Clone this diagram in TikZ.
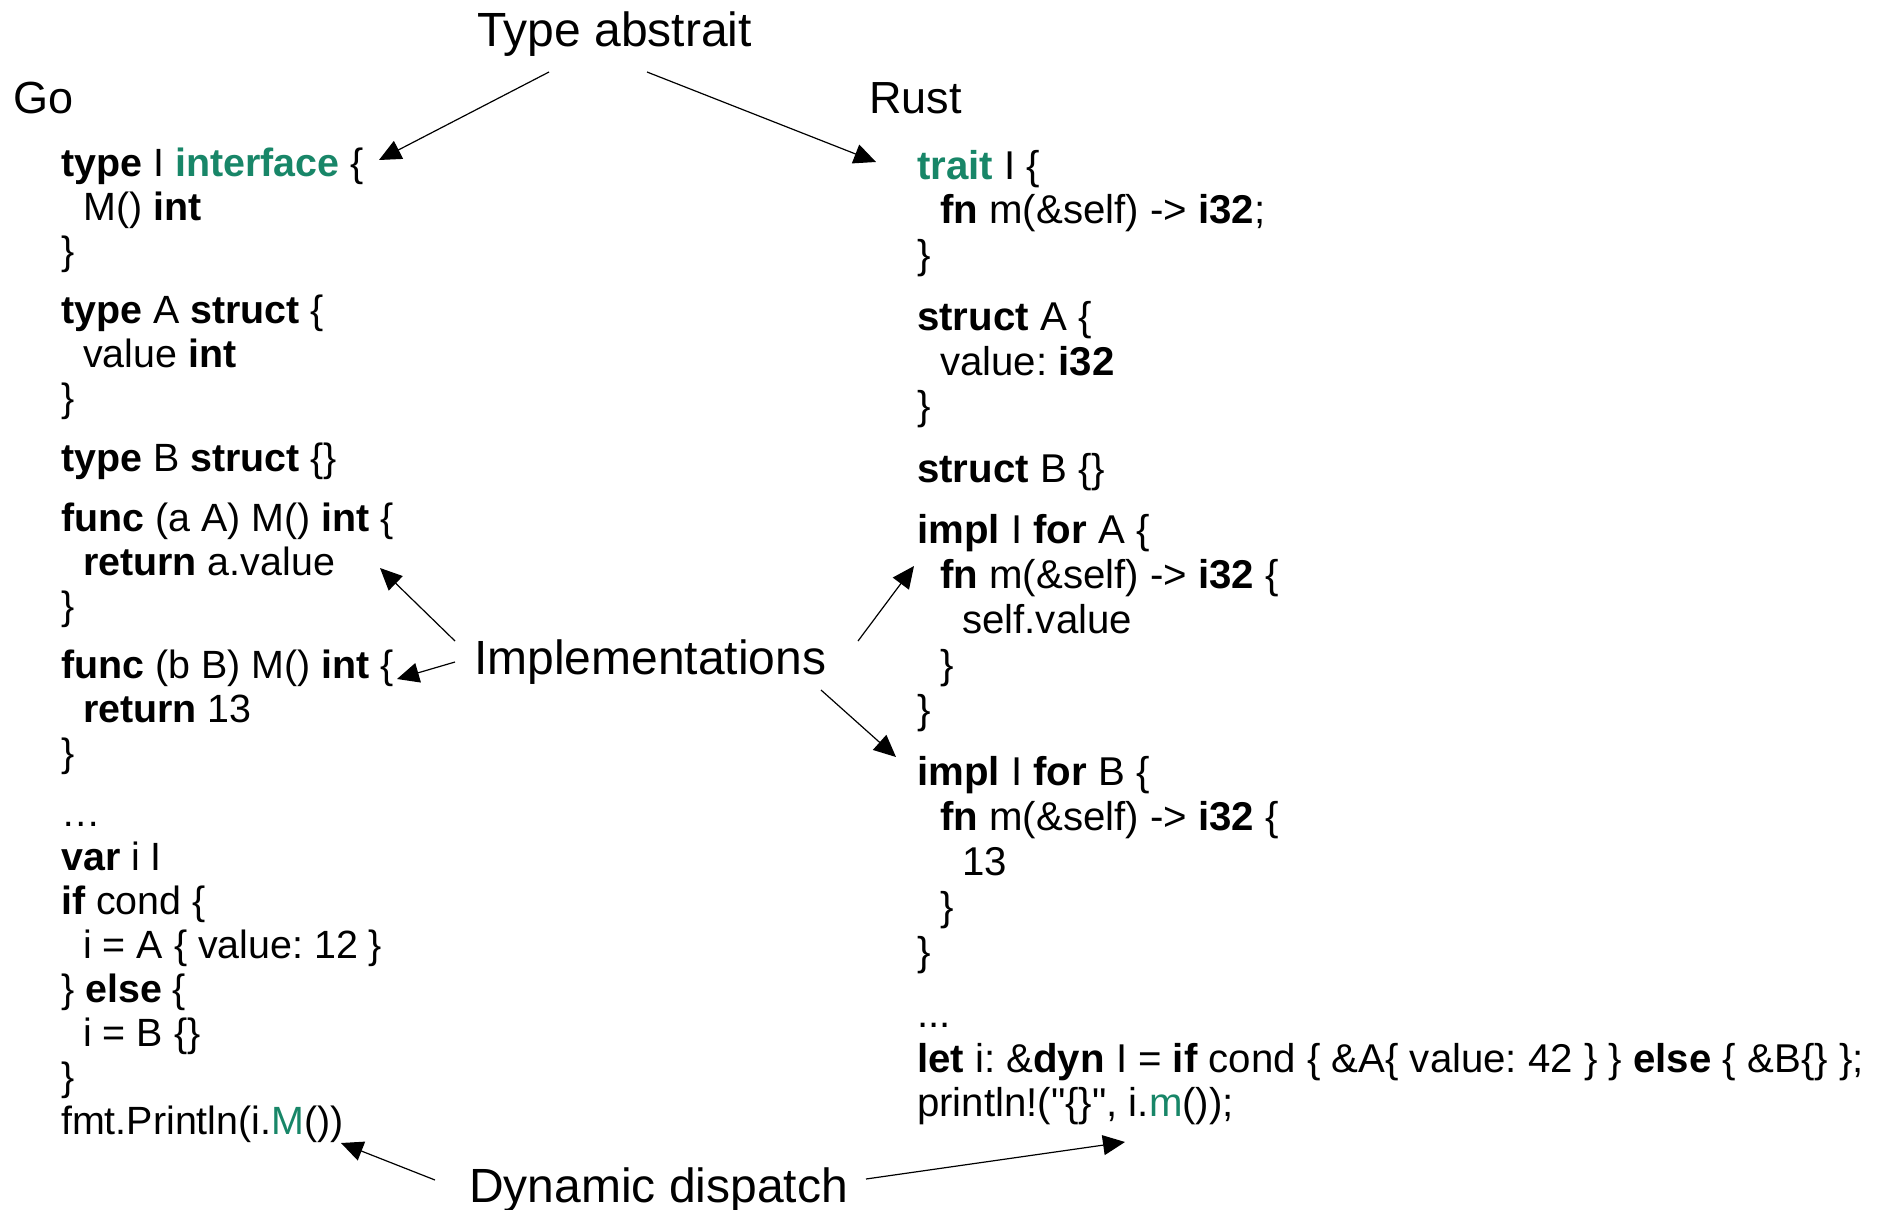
\documentclass[tikz,border=0pt]{standalone}
\usepackage{fontspec}
\setmainfont{Liberation Sans}[Ligatures=TeXOff]
\usetikzlibrary{arrows.meta}
\definecolor{kw}{RGB}{24,134,104}
\tikzset{
  code/.style={anchor=base west, inner sep=0pt, font=\fontsize{39.4}{48}\selectfont\frenchspacing},
  rcode/.style={anchor=base west, inner sep=0pt, font=\fontsize{40.2}{48}\selectfont\frenchspacing},
  lbl/.style={anchor=base west, inner sep=0pt, font=\fontsize{48}{56}\selectfont},
  lang/.style={anchor=base west, inner sep=0pt, font=\fontsize{45}{54}\selectfont},
  conn/.style={line width=1.2pt, -{Triangle[length=22pt,width=20pt]}}
}
\newcommand{\kwb}[1]{\textbf{#1}}
\newcommand{\kwg}[1]{\textcolor{kw}{#1}}
\begin{document}
\frenchspacing
\begin{tikzpicture}[x=1pt,y=-1pt]
\useasboundingbox (0,0) rectangle (1885,1210);
% labels
\node[lbl] (ta) at (477,46) {Type abstrait};
\node[lang] (go) at (13,113) {Go};
\node[lang] (rust) at (869,113) {Rust};
\node[lbl] (impl) at (474,674) {Implementations};
\node[lbl] (dd) at (469,1202) {Dynamic dispatch};
% Go code
\node[code] (g1) at (61,176.7) {\kwb{type} I \kwg{\kwb{interface}} \{};
\node[code] (g2) at (83,220.7) {M() \kwb{int}};
\node[code] (g3) at (61,264.7) {\}};
\node[code] (g4) at (61,323.4) {\kwb{type} A \kwb{struct} \{};
\node[code] (g5) at (83,367.4) {value \kwb{int}};
\node[code] (g6) at (61,411.4) {\}};
\node[code] (g7) at (61,471.3) {\kwb{type} B \kwb{struct} \{\}};
\node[code] (g8) at (61,531.4) {\kwb{func} (a A) M() \kwb{int} \{};
\node[code] (g9) at (83,575.4) {\kwb{return} a.value};
\node[code] (g10) at (61,619.4) {\}};
\node[code] (g11) at (61,678) {\kwb{func} (b B) M() \kwb{int} \{};
\node[code] (g12) at (83,722) {\kwb{return} 13};
\node[code] (g13) at (61,766) {\}};
\node[code] (g14) at (61,826.4) {…};
\node[code] (g15) at (61,870.4) {\kwb{var} i I};
\node[code] (g16) at (61,914.4) {\kwb{if} cond \{};
\node[code] (g17) at (83,958.4) {i = A \{ value: 12 \}};
\node[code] (g18) at (61,1002.4) {\} \kwb{else} \{};
\node[code] (g19) at (83,1046.4) {i = B \{\}};
\node[code] (g20) at (61,1090.4) {\}};
\node[code] (g21) at (61,1134.4) {fmt.Println(i.\kwg{M}())};
% Rust code
\node[rcode] (r1) at (917,179) {\kwg{\kwb{trait}} I \{};
\node[rcode] (r2) at (940,223.5) {\kwb{fn} m(\&self) -> \kwb{i32};};
\node[rcode] (r3) at (917,268) {\}};
\node[rcode] (r4) at (917,330.6) {\kwb{struct} A \{};
\node[rcode] (r5) at (940,375) {value: \kwb{i32}};
\node[rcode] (r6) at (917,419.6) {\}};
\node[rcode] (r7) at (917,482) {\kwb{struct} B \{\}};
\node[rcode] (r8) at (917,543.4) {\kwb{impl} I \kwb{for} A \{};
\node[rcode] (r9) at (940,588.4) {\kwb{fn} m(\&self) -> \kwb{i32} \{};
\node[rcode] (r10) at (962,633.4) {self.value};
\node[rcode] (r11) at (940,678.4) {\}};
\node[rcode] (r12) at (917,723.4) {\}};
\node[rcode] (r13) at (917,785.4) {\kwb{impl} I \kwb{for} B \{};
\node[rcode] (r14) at (940,830.4) {\kwb{fn} m(\&self) -> \kwb{i32} \{};
\node[rcode] (r15) at (962,875.4) {13};
\node[rcode] (r16) at (940,920.4) {\}};
\node[rcode] (r17) at (917,965.4) {\}};
\node[rcode] (r18) at (917,1027.4) {...};
\node[rcode] (r19) at (917,1072.4) {\kwb{let} i: \&\kwb{dyn} I = \kwb{if} cond \{ \&A\{ value: 42 \} \} \kwb{else} \{ \&B\{\} \};};
\node[rcode] (r20) at (917,1116.8) {println!("\{\}", i.\kwg{m}());};
% connector endpoints
\coordinate (taL) at (549,72);
\coordinate (taR) at (647,72);
\coordinate (goI) at (379,160);
\coordinate (ruI) at (876,162);
\coordinate (imA) at (455,641);
\coordinate (imB) at (455,662);
\coordinate (imC) at (858,641);
\coordinate (imD) at (821,690);
\coordinate (gfA) at (380,568);
\coordinate (gfB) at (397,679);
\coordinate (rfA) at (914,566);
\coordinate (rfB) at (896,757);
\coordinate (ddL) at (435,1180);
\coordinate (ddR) at (866,1179);
\coordinate (gcall) at (341,1143);
\coordinate (rcall) at (1125,1142);
\draw[conn] (taL) -- (goI);
\draw[conn] (taR) -- (ruI);
\draw[conn] (imA) -- (gfA);
\draw[conn] (imB) -- (gfB);
\draw[conn] (imC) -- (rfA);
\draw[conn] (imD) -- (rfB);
\draw[conn] (ddL) -- (gcall);
\draw[conn] (ddR) -- (rcall);
\end{tikzpicture}
\end{document}
